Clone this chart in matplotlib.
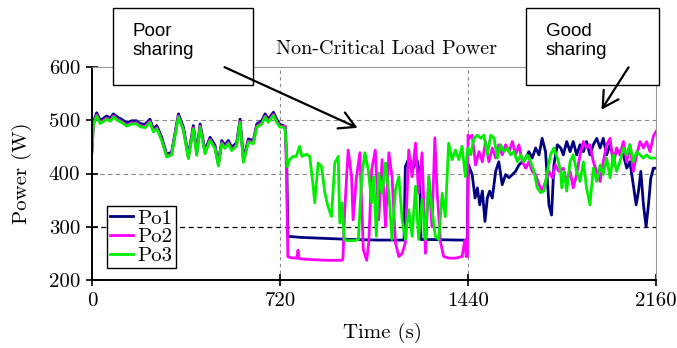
import numpy as np
import matplotlib
matplotlib.use("Agg")
import matplotlib.pyplot as plt
from matplotlib.patches import Rectangle, FancyArrowPatch

plt.rcParams['font.family'] = ['cmr10', 'DejaVu Serif']
plt.rcParams['mathtext.fontset'] = 'cm'
plt.rcParams['axes.formatter.use_mathtext'] = True

# ---- data (time in s, power in W) ----
seg1_t = [0, 5, 18, 31, 45, 56, 70, 82, 100, 113, 133, 152, 171, 184, 203, 222, 235, 248,
          267, 286, 305, 318, 331, 350, 369, 388, 401, 414, 433, 452, 471, 484, 497, 509,
          522, 535, 554, 567, 580, 599, 618, 631, 650, 663, 675, 695, 707, 720, 733]
po1_seg1 = [445, 496, 514, 500, 504, 508, 504, 512, 505, 502, 495, 499, 499, 494, 492, 502,
            484, 490, 468, 436, 440, 476, 512, 487, 433, 490, 440, 493, 443, 468, 453, 419,
            462, 453, 462, 449, 458, 502, 427, 465, 462, 493, 499, 512, 502, 515, 502, 492, 490]
po2_seg1 = [442, 492, 510, 496, 500, 504, 500, 508, 501, 498, 491, 495, 495, 490, 488, 498,
            480, 486, 464, 433, 437, 472, 508, 483, 430, 486, 436, 489, 439, 464, 449, 416,
            458, 449, 458, 445, 454, 498, 423, 461, 458, 489, 495, 508, 498, 511, 498, 489, 488]
po3_seg1 = [440, 490, 508, 494, 498, 502, 498, 506, 499, 496, 489, 493, 493, 488, 486, 496,
            478, 484, 462, 431, 435, 470, 506, 481, 428, 484, 434, 487, 437, 462, 447, 414,
            456, 447, 456, 443, 452, 496, 421, 459, 456, 487, 493, 506, 496, 509, 496, 487, 487]

po1_t2 = [740, 746, 750, 800, 900, 1000, 1100, 1195, 1200, 1215, 1230, 1245, 1255, 1260,
          1300, 1400, 1437,
          1440, 1442, 1456, 1467, 1476, 1485, 1495, 1505, 1514, 1523, 1533, 1546, 1558, 1571,
          1584, 1597, 1610, 1622, 1635, 1648, 1661, 1673, 1686, 1699, 1712, 1724, 1737, 1750,
          1760, 1769, 1782, 1795, 1805, 1818, 1831, 1843, 1856, 1869, 1882, 1894, 1907, 1920,
          1933, 1946, 1958, 1971, 1984, 1997, 2009, 2022, 2035, 2048, 2060, 2073, 2084, 2093,
          2102, 2112, 2122, 2131, 2140, 2150, 2160]
po1_w2 = [487, 420, 282, 280, 278, 276, 275, 275, 413, 430, 410, 425, 400, 276,
          276, 275, 275,
          385, 416, 398, 354, 373, 341, 367, 310, 354, 367, 354, 404, 422, 379,
          398, 392, 398, 404, 416, 422, 429, 441, 429, 448, 435, 466, 441, 341,
          322, 416, 454, 448, 435, 460, 441, 460, 435, 454, 441, 460, 435, 454,
          466, 448, 466, 435, 454, 429, 441, 441, 435, 410, 422, 379, 341, 367,
          404, 341, 300, 341, 391, 410, 410]

po2_t2 = [740, 745, 750, 760, 785, 789, 793, 850, 900, 958, 961, 968, 981, 994, 1000, 1013,
          1026, 1039, 1052, 1060, 1071, 1085, 1098, 1111, 1124, 1137, 1149, 1162, 1175, 1188,
          1200, 1213, 1226, 1239, 1251, 1264, 1277, 1290, 1302, 1313, 1322, 1335, 1347, 1366,
          1392, 1417, 1428, 1433, 1438,
          1440, 1444, 1456, 1469, 1482, 1495, 1507, 1520, 1533, 1546, 1558, 1571, 1584, 1597,
          1610, 1622, 1635, 1648, 1661, 1673, 1686, 1699, 1712, 1724, 1737, 1750, 1763, 1775,
          1788, 1805, 1818, 1831, 1843, 1856, 1869, 1882, 1894, 1907, 1920, 1933, 1946, 1958,
          1971, 1984, 1997, 2009, 2022, 2035, 2048, 2060, 2073, 2086, 2099, 2112, 2124, 2137,
          2150, 2160]
po2_w2 = [489, 400, 244, 242, 241, 256, 240, 238, 237, 237, 240, 332, 444, 394, 313, 394,
          439, 257, 237, 270, 407, 444, 313, 426, 300, 439, 394, 270, 244, 250,
          270, 444, 394, 457, 363, 439, 250, 394, 300, 467, 363, 270, 244, 241,
          241, 244, 275, 244, 244,
          472, 466, 472, 416, 441, 422, 460, 422, 448, 429, 454, 435, 454, 441,
          460, 435, 454, 422, 410, 422, 404, 398, 379, 367, 385, 404, 392, 416,
          404, 410, 385, 404, 373, 398, 435, 460, 448, 454, 422, 404, 385, 422,
          454, 466, 416, 448, 435, 460, 422, 454, 404, 435, 460, 448, 460, 441,
          470, 479]

po3_t2 = [740, 748, 757, 770, 782, 795, 804, 821, 834, 847, 853, 866, 879, 892, 904, 917,
          930, 943, 949, 958, 966, 975, 1007, 1020, 1033, 1045, 1058, 1071, 1079, 1089, 1098,
          1111, 1124, 1137, 1149, 1162, 1175, 1188, 1200, 1213, 1226, 1239, 1251, 1264, 1277,
          1290, 1302, 1315, 1328, 1341, 1353, 1366, 1379, 1392, 1405, 1417, 1430, 1437,
          1440, 1450, 1463, 1476, 1489, 1501, 1514, 1527, 1540, 1552, 1565, 1578, 1591, 1603,
          1616, 1629, 1642, 1654, 1667, 1680, 1693, 1705, 1718, 1731, 1744, 1756, 1769, 1782,
          1795, 1799, 1808, 1818, 1831, 1843, 1856, 1869, 1882, 1894, 1907, 1920, 1933, 1946,
          1958, 1971, 1984, 1997, 2009, 2022, 2035, 2048, 2060, 2073, 2086, 2099, 2112, 2124,
          2137, 2150, 2160]
po3_w2 = [482, 413, 426, 432, 432, 451, 432, 436, 432, 376, 345, 420, 413, 363, 338, 319,
          420, 432, 307, 345, 276, 274, 274, 276, 394, 439, 407, 345, 394, 282, 401,
          363, 420, 363, 276, 369, 394, 313, 276, 332, 282, 376, 276, 351, 276,
          394, 332, 282, 276, 363, 319, 457, 426, 444, 426, 451, 394, 440,
          448, 435, 466, 472, 466, 472, 435, 472, 466, 429, 454, 441, 448, 435,
          441, 422, 435, 422, 435, 422, 404, 373, 364, 367, 404, 435, 448, 429,
          404, 373, 404, 367, 422, 435, 404, 385, 422, 373, 341, 410, 385, 416,
          398, 429, 392, 435, 404, 422, 448, 435, 454, 422, 441, 435, 429, 435,
          429, 429, 429]

labels = ["Po1", "Po2", "Po3"]
colors = ["#000080", "#ff00ff", "#00ee00"]
x_ticks = [0, 720, 1440, 2160]
y_ticks = [200, 300, 400, 500, 600]

W, H = 677, 348


def px(x, y):
    return (x / W, 1 - y / H)


fig = plt.figure(figsize=(W / 100, H / 100), dpi=100)
ax = fig.add_axes([92 / W, 1 - 280 / H, 564 / W, 213 / H])

series = [(seg1_t + po1_t2, po1_seg1 + po1_w2),
          (seg1_t + po2_t2, po2_seg1 + po2_w2),
          (seg1_t + po3_t2, po3_seg1 + po3_w2)]
for (t, w), lab, c in zip(series, labels, colors):
    ax.plot(t, w, color=c, lw=2.0, label=lab)

ax.set_xlim(0, 2160)
ax.set_ylim(200, 600)
ax.set_xticks(x_ticks)
ax.set_yticks(y_ticks)
ax.set_xticklabels([str(v) for v in x_ticks])
ax.set_yticklabels([str(v) for v in y_ticks])
ax.tick_params(direction='inout', length=9, width=1.2, labelsize=15, pad=4)

# grid lines
for v in [400, 500]:
    ax.axhline(v, color='#888888', ls=(0, (4, 3)), lw=0.8, zorder=0)
ax.axhline(300, color='black', ls=(0, (4, 3)), lw=0.9, zorder=0)
for v in [720, 1440]:
    ax.axvline(v, color='#888888', ls=(0, (3, 3)), lw=0.8, zorder=0)

for s in ['left', 'bottom']:
    ax.spines[s].set_linewidth(1.4)
for s in ['top', 'right']:
    ax.spines[s].set_color('#999999')
    ax.spines[s].set_linewidth(0.8)

ax.set_ylabel("Power (W)", fontsize=15)
ax.yaxis.set_label_coords(-0.106, 0.5)
ax.set_xlabel("Time (s)", fontsize=15)
ax.xaxis.set_label_coords(0.515, -0.2)

fig.text(*px(386, 54), "Non-Critical Load Power", fontsize=14.5, ha='center', va='baseline')

leg = ax.legend(loc='lower left', bbox_to_anchor=(0.027, 0.056), borderaxespad=0,
                fancybox=False, edgecolor='black', fontsize=15, handlelength=1.1,
                handletextpad=0.2, labelspacing=0.0, borderpad=0.15, framealpha=1)
leg.get_frame().set_linewidth(1.0)

# annotation boxes
for (x0, y0, x1, y1), txt, tx in [((113, 8, 253, 85), "Poor\nsharing", 133),
                                  ((526, 8, 659, 85), "Good\nsharing", 546)]:
    fig.patches.append(Rectangle(px(x0, y1), (x1 - x0) / W, (y1 - y0) / H,
                                 transform=fig.transFigure, facecolor='white',
                                 edgecolor='black', lw=1.0, zorder=5))
    fig.text(*px(tx, 23), txt, fontsize=13.5, family='Liberation Sans', ha='left',
             va='top', linespacing=1.15, zorder=6)

for start, end in [((222, 66), (360, 129)), ((630, 65), (600, 112))]:
    fig.add_artist(FancyArrowPatch(
        px(*start), px(*end), transform=fig.transFigure,
        arrowstyle='->,head_length=0.8,head_width=0.45',
        color='black', lw=1.6, zorder=7, mutation_scale=14))

fig.savefig("out.png", dpi=100)
